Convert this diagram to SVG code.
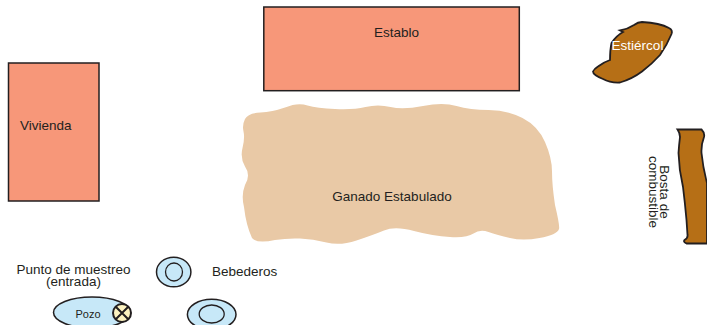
<svg xmlns="http://www.w3.org/2000/svg" width="707" height="325" viewBox="0 0 707 325">
<style>
text{font-family:"Liberation Sans",Arial,sans-serif;fill:#231f20;font-size:13.500px}
.b{fill:#f79779;stroke:#231f20;stroke-width:1.500}
.w{fill:#c7e8f8;stroke:#231f20;stroke-width:1.500}
.m{fill:#b66f16;stroke:#231f20;stroke-width:1.800}
.n{fill:none;stroke:#231f20;stroke-width:1.300}
</style>
<rect width="707" height="325" fill="#fff"/>
<g id="establo"><rect class="b" x="263.800" y="7" width="255.500" height="83.700"/><text x="396.500" y="36.500" text-anchor="middle">Establo</text></g>
<g id="vivienda"><rect class="b" x="8.500" y="63" width="90.500" height="138"/><text x="20" y="130">Vivienda</text></g>
<g id="ganado"><path fill="#e9c9a6" d="M243.500 131.500Q242 125 245 119Q248 113 260.500 112.500Q272 112 285 107.500Q298 102 307.500 105.500Q317 108 335 109Q353 110 365.500 107Q378 104 390.500 107Q403 110 423 106Q443 102 456.500 106Q470 110 488.500 110Q507 110 522.500 118Q538 126 545 142Q552 158 552 171.500Q552 185 555 205Q560 226 559 229Q557 235 539.500 238Q523 241 510 238Q497 235 488.500 232Q480 229 473.500 233.500Q467 238 450 237Q433 236 414 231Q395 226 384 230.500Q373 235 356.500 240.500Q340 246 326.500 242.500Q313 239 300 238.500Q287 238 275 240Q257 244 252 238Q246 225 244 207Q241 195 245 185Q251 175 245 166.500Q240 158 242.500 148Q245 138 243.500 131.500Z"/><text x="392" y="201" text-anchor="middle">Ganado Estabulado</text></g>
<g id="estiercol"><path class="m" d="M611.500 43Q616 36 623 32L620 30.500Q628 29 634 25Q638 22 642 22Q660 23 669 28Q673 30 671.500 34Q667 45 660 55Q652 64 642 71.500Q632 79 620 82.500Q610 83 603 79Q593 75 593 71.500Q594 69 598 66.500Q604 62 610 60Q610 50 611.500 43Z"/><text x="637.500" y="50" text-anchor="middle" style="fill:#fff">Estiércol</text></g>
<g id="bosta"><path class="m" d="M677.500 129.500L701.500 129.500Q705 133 704 137Q701 145 701.500 153Q703 168 707 183L707 243.500L686.500 243.500Q683 242 684.500 240Q688 238 687.500 235Q687 228 686.500 220Q685 203 683 187Q679 170 678.500 153Q679 145 680 137Q680 133 677.500 129.500Z"/><text transform="translate(660 192) rotate(90)" text-anchor="middle">Bosta de</text><text transform="translate(648.500 192) rotate(90)" text-anchor="middle">combustible</text></g>
<g id="punto"><text text-anchor="middle"><tspan x="73.500" y="273.500">Punto de muestreo</tspan><tspan x="73.500" y="286">(entrada)</tspan></text></g>
<g id="bebedero1"><ellipse class="w" cx="173.700" cy="272" rx="17.200" ry="14.800"/><ellipse class="n" cx="174" cy="272" rx="8.500" ry="9"/></g>
<text x="212" y="275.500">Bebederos</text>
<g id="pozo"><ellipse class="w" cx="92" cy="312.500" rx="38.500" ry="15.500"/><text x="88" y="318" text-anchor="middle" style="font-size:11px">Pozo</text><circle cx="122" cy="313" r="9" fill="#fdf3c0" stroke="#231f20" stroke-width="2"/><path d="M116 307L128 319M128 307L116 319" stroke="#231f20" stroke-width="2"/></g>
<g id="bebedero2"><ellipse class="w" cx="211.700" cy="314.500" rx="24.300" ry="15.200"/><ellipse class="n" cx="211.700" cy="314" rx="12.500" ry="9"/></g>
</svg>
